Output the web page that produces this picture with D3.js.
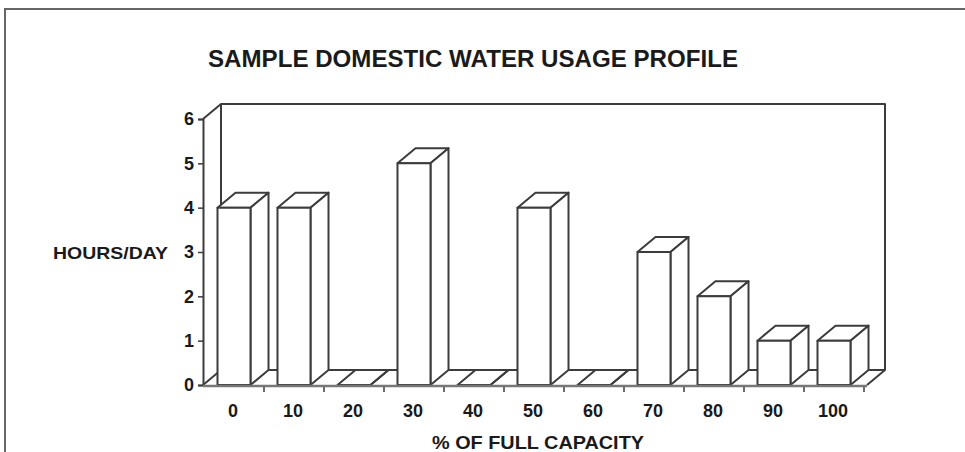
<!DOCTYPE html>
<html>
<head>
<meta charset="utf-8">
<script src="https://cdn.jsdelivr.net/npm/d3@7"></script>
<style>
  body { margin: 0; background: #fff; }
  text { font-family: "Liberation Sans", Arial, Helvetica, sans-serif; font-weight: bold; fill: #1a1a1a; }
</style>
</head>
<body>
<svg width="965" height="452"></svg>
<script>
const capacity = ["0", "10", "20", "30", "40", "50", "60", "70", "80", "90", "100"];
const hoursPerDay = [4, 4, 0, 5, 0, 4, 0, 3, 2, 1, 1];
const yTickValues = [0, 1, 2, 3, 4, 5, 6];

const svg = d3.select("svg");
const stroke = "#3c3c3c";
const depth = { dx: 18, dy: -15 };

const x = d3.scaleBand()
    .domain(capacity)
    .range([204, 864])
    .paddingInner(0.45)
    .paddingOuter(0.225);

const y = d3.scaleLinear()
    .domain([0, 6])
    .range([385, 119]);

// outer frame (image border)
svg.append("path")
    .attr("d", "M5,460 L5,9 L975,9")
    .attr("fill", "none")
    .attr("stroke", "#666")
    .attr("stroke-width", 2);

// title
svg.append("text")
    .attr("x", 208).attr("y", 67)
    .attr("font-size", 23)
    .attr("textLength", 530)
    .attr("lengthAdjust", "spacingAndGlyphs")
    .text("SAMPLE DOMESTIC WATER USAGE PROFILE");

const x0 = x.range()[0] - 1;
const x1 = x.range()[1] + 3;
const yBase = y(0);
const yTop = y(6);

// back wall + floor outline
const frame = svg.append("g")
    .attr("fill", "none")
    .attr("stroke", stroke)
    .attr("stroke-width", 2)
    .attr("stroke-linejoin", "round");

frame.append("path")
    .attr("d", `M${x0},${yTop} L${x0 + depth.dx},${yTop + depth.dy} L${x1 + depth.dx},${yTop + depth.dy} L${x1 + depth.dx},${yBase + depth.dy}`);
frame.append("line")
    .attr("x1", x0 + depth.dx).attr("y1", yTop + depth.dy)
    .attr("x2", x0 + depth.dx).attr("y2", yBase + depth.dy);
frame.append("path")
    .attr("d", `M${x0},${yBase} L${x0 + depth.dx},${yBase + depth.dy} L${x1 + depth.dx},${yBase + depth.dy} L${x1},${yBase}`);

// y axis
const yAxis = svg.append("g")
    .attr("transform", `translate(${x0},0)`)
    .call(d3.axisLeft(y).tickValues(yTickValues).tickSize(5).tickPadding(4).tickFormat(d3.format("d")));
yAxis.select(".domain").attr("stroke", stroke).attr("stroke-width", 2);
yAxis.selectAll(".tick line").attr("stroke", stroke).attr("stroke-width", 1.5);
yAxis.selectAll(".tick text")
    .attr("font-size", 18)
    .attr("font-family", null)
    .attr("fill", "#1a1a1a");

// bars (front, top, side)
const bar = svg.append("g")
    .attr("stroke", stroke)
    .attr("stroke-width", 2)
    .attr("stroke-linejoin", "round")
    .attr("fill", "#fff")
    .selectAll("g")
    .data(capacity.map((c, i) => ({ c, v: hoursPerDay[i] })))
    .join("g");

const bw = x.bandwidth();
bar.append("path")
    .attr("d", d => {
        const l = x(d.c), r = l + bw, t = y(d.v);
        return `M${l},${t} L${l + depth.dx},${t + depth.dy} L${r + depth.dx},${t + depth.dy} L${r},${t} Z`;
    });
bar.append("path")
    .attr("d", d => {
        const r = x(d.c) + bw, t = y(d.v);
        return `M${r},${t} L${r + depth.dx},${t + depth.dy} L${r + depth.dx},${yBase + depth.dy} L${r},${yBase} Z`;
    });
bar.append("rect")
    .attr("x", d => x(d.c))
    .attr("y", d => y(d.v))
    .attr("width", bw)
    .attr("height", d => yBase - y(d.v));

// x axis line, ticks between bars
svg.append("line")
    .attr("x1", x0).attr("x2", x1)
    .attr("y1", yBase + 1).attr("y2", yBase + 1)
    .attr("stroke", "#777").attr("stroke-width", 2.5);

const step = x.step();
svg.append("g")
    .selectAll("line")
    .data(capacity)
    .join("line")
    .attr("x1", d => x(d) + bw + (step - bw) / 2)
    .attr("x2", d => x(d) + bw + (step - bw) / 2)
    .attr("y1", yBase + 2).attr("y2", yBase + 7)
    .attr("stroke", stroke).attr("stroke-width", 1.5);

svg.append("g")
    .selectAll("text")
    .data(capacity)
    .join("text")
    .attr("x", d => x(d) + bw / 2 - 1)
    .attr("y", 417)
    .attr("text-anchor", "middle")
    .attr("font-size", 18)
    .text(d => d);

// axis titles
svg.append("text")
    .attr("x", 53).attr("y", 259)
    .attr("font-size", 17)
    .attr("textLength", 115)
    .attr("lengthAdjust", "spacingAndGlyphs")
    .text("HOURS/DAY");

svg.append("text")
    .attr("x", 432).attr("y", 449)
    .attr("font-size", 18)
    .attr("textLength", 212)
    .attr("lengthAdjust", "spacingAndGlyphs")
    .text("% OF FULL CAPACITY");
</script>
</body>
</html>
